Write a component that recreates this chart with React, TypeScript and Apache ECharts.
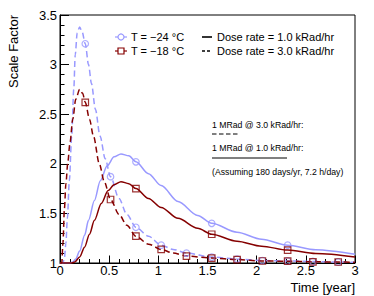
import React, { useEffect, useRef } from "react";
import * as echarts from "echarts";

// Curve samples (time in years, scale factor)
const tBlueDash = [0, 0.03, 0.045, 0.06, 0.075, 0.095, 0.119, 0.14, 0.155, 0.175, 0.2, 0.225, 0.257, 0.29, 0.32, 0.36, 0.407, 0.46, 0.514, 0.6, 0.68, 0.772, 0.9, 1.029, 1.15, 1.286, 1.543, 1.801, 2.058, 2.315, 2.572, 2.829, 3];
const vBlueDash = [1, 1, 1.05, 1.2, 1.45, 1.83, 2.28, 2.75, 3.1, 3.32, 3.38, 3.33, 3.21, 3.0, 2.81, 2.55, 2.28, 2.05, 1.87, 1.65, 1.49, 1.36, 1.27, 1.18, 1.137, 1.1, 1.06, 1.04, 1.025, 1.02, 1.015, 1.01, 1.008];

const tRedDash = [0, 0.018, 0.03, 0.045, 0.06, 0.08, 0.1, 0.13, 0.16, 0.2, 0.23, 0.257, 0.3, 0.34, 0.4, 0.45, 0.514, 0.6, 0.68, 0.772, 0.9, 1.029, 1.15, 1.286, 1.543, 1.801, 2.058, 2.315, 2.572, 2.829, 3];
const vRedDash = [1, 1, 1.2, 1.55, 1.8, 2.02, 2.2, 2.45, 2.65, 2.75, 2.71, 2.62, 2.45, 2.28, 2.0, 1.82, 1.64, 1.49, 1.38, 1.27, 1.19, 1.137, 1.1, 1.07, 1.05, 1.035, 1.02, 1.018, 1.012, 1.01, 1.008];

const tBlueSolid = [0, 0.1, 0.13, 0.16, 0.2, 0.25, 0.29, 0.35, 0.41, 0.48, 0.55, 0.62, 0.7, 0.772, 0.9, 1.029, 1.2, 1.4, 1.543, 1.8, 2.05, 2.315, 2.6, 3];
const vBlueSolid = [1, 1, 1.01, 1.04, 1.12, 1.28, 1.43, 1.63, 1.83, 1.98, 2.07, 2.1, 2.08, 2.02, 1.9, 1.78, 1.62, 1.48, 1.4, 1.31, 1.24, 1.18, 1.134, 1.088];

const tRedSolid = [0, 0.12, 0.15, 0.2, 0.25, 0.3, 0.35, 0.42, 0.49, 0.55, 0.62, 0.7, 0.772, 0.9, 1.029, 1.2, 1.4, 1.543, 1.8, 2.05, 2.315, 2.6, 3];
const vRedSolid = [1, 1, 1.01, 1.06, 1.16, 1.29, 1.43, 1.6, 1.73, 1.79, 1.82, 1.8, 1.75, 1.65, 1.56, 1.45, 1.35, 1.29, 1.22, 1.17, 1.13, 1.095, 1.06];

// Markers (every 1 MRad)
const tMarkDash = [0.257, 0.514, 0.772, 1.029, 1.286, 1.543, 1.801, 2.058, 2.315, 2.572, 2.829];
const vMarkBlueDash = [3.21, 1.87, 1.36, 1.18, 1.1, 1.06, 1.04, 1.025, 1.02, 1.015, 1.01];
const vMarkRedDash = [2.62, 1.64, 1.27, 1.137, 1.07, 1.05, 1.035, 1.02, 1.018, 1.012, 1.01];
const tMarkSolid = [0.772, 1.543, 2.315];
const vMarkBlueSolid = [2.02, 1.4, 1.18];
const vMarkRedSolid = [1.75, 1.29, 1.13];

const legendTemps = ["T = \u221224 \u00b0C", "T = \u221218 \u00b0C"];
const legendRates = ["Dose rate = 1.0 kRad/hr", "Dose rate = 3.0 kRad/hr"];
const noteTexts = ["1 MRad @ 3.0 kRad/hr:", "1 MRad @ 1.0 kRad/hr:", "(Assuming 180 days/yr, 7.2 h/day)"];

const BLUE = "#9999ff";
const RED = "#850000";
const FONT = "'Liberation Sans', Arial, Helvetica, sans-serif";

const zip = (t: number[], v: number[]) => t.map((x, i) => [x, v[i]]);

export default function App() {
  const ref = useRef<HTMLDivElement>(null);
  useEffect(() => {
    if (!ref.current) return;
    const chart = echarts.init(ref.current, null, { renderer: "svg" });
    const lineSeries = (data: number[][], color: string, dashed: boolean) => ({
      type: "line",
      data,
      smooth: 0.3,
      smoothMonotone: "x",
      showSymbol: false,
      symbol: "none",
      lineStyle: { color, width: 1.5, type: dashed ? [6, 3.5] : "solid" },
      z: 3,
    });
    const markSeries = (data: number[][], color: string, sym: string) => ({
      type: "scatter",
      data,
      symbol: sym,
      symbolSize: 6.5,
      itemStyle: { color: "transparent", borderColor: color, borderWidth: 1.2 },
      z: 5,
    });
    const legendX1 = 115;
    const legendX2 = 202;
    const row1 = 37;
    const row2 = 51;
    const textStyle = (size: number) => ({ fill: "#000", fontFamily: FONT, fontSize: size });
    chart.setOption({
      animation: false,
      backgroundColor: "#fff",
      grid: { left: 60, right: 19, top: 15, bottom: 33, show: true, borderColor: "#000", borderWidth: 1, backgroundColor: "transparent" },
      xAxis: {
        type: "value",
        min: 0,
        max: 3,
        interval: 0.5,
        axisLine: { show: true, lineStyle: { color: "#000", width: 1 } },
        axisTick: { show: true, inside: true, length: 7.5, lineStyle: { color: "#000" } },
        minorTick: { show: true, splitNumber: 5, length: 4, lineStyle: { color: "#000" } },
        splitLine: { show: false },
        axisLabel: { color: "#000", fontSize: 13, fontFamily: FONT, margin: 1, formatter: (v: number) => String(v) },
      },
      yAxis: {
        type: "value",
        min: 1,
        max: 3.5,
        interval: 0.5,
        axisLine: { show: true, lineStyle: { color: "#000", width: 1 } },
        axisTick: { show: true, inside: true, length: 9, lineStyle: { color: "#000" } },
        minorTick: { show: true, splitNumber: 5, length: 4.5, lineStyle: { color: "#000" } },
        splitLine: { show: false },
        axisLabel: { color: "#000", fontSize: 13, fontFamily: FONT, margin: 3, formatter: (v: number) => String(v) },
      },
      series: [
        lineSeries(zip(tBlueSolid, vBlueSolid), BLUE, false),
        lineSeries(zip(tBlueDash, vBlueDash), BLUE, true),
        lineSeries(zip(tRedSolid, vRedSolid), RED, false),
        lineSeries(zip(tRedDash, vRedDash), RED, true),
        markSeries(zip(tMarkDash, vMarkBlueDash), BLUE, "circle"),
        markSeries(zip(tMarkSolid, vMarkBlueSolid), BLUE, "circle"),
        markSeries(zip(tMarkDash, vMarkRedDash), RED, "rect"),
        markSeries(zip(tMarkSolid, vMarkRedSolid), RED, "rect"),
      ],
      graphic: [
        { type: "text", x: 13, y: 15, rotation: Math.PI / 2, style: { ...textStyle(13), text: "Scale Factor", align: "right", verticalAlign: "middle" } },
        { type: "text", x: 355, y: 287, style: { ...textStyle(13), text: "Time [year]", align: "right", verticalAlign: "middle" } },
        // Legend column 1
        { type: "line", shape: { x1: legendX1, y1: row1, x2: legendX1 + 12, y2: row1 }, style: { stroke: BLUE, lineWidth: 1.2 } },
        { type: "circle", shape: { cx: legendX1 + 6, cy: row1, r: 3 }, style: { fill: "#fff", stroke: BLUE, lineWidth: 1.2 } },
        { type: "text", x: legendX1 + 16, y: row1, style: { ...textStyle(11), text: legendTemps[0], verticalAlign: "middle" } },
        { type: "line", shape: { x1: legendX1, y1: row2, x2: legendX1 + 12, y2: row2 }, style: { stroke: RED, lineWidth: 1.2 } },
        { type: "rect", shape: { x: legendX1 + 3, y: row2 - 3, width: 6, height: 6 }, style: { fill: "#fff", stroke: RED, lineWidth: 1.2 } },
        { type: "text", x: legendX1 + 16, y: row2, style: { ...textStyle(11), text: legendTemps[1], verticalAlign: "middle" } },
        // Legend column 2
        { type: "line", shape: { x1: legendX2, y1: row1, x2: legendX2 + 10, y2: row1 }, style: { stroke: "#000", lineWidth: 1.6 } },
        { type: "text", x: legendX2 + 15, y: row1, style: { ...textStyle(11), text: legendRates[0], verticalAlign: "middle" } },
        { type: "line", shape: { x1: legendX2, y1: row2, x2: legendX2 + 10, y2: row2 }, style: { stroke: "#000", lineWidth: 1.6, lineDash: [3, 2] } },
        { type: "text", x: legendX2 + 15, y: row2, style: { ...textStyle(11), text: legendRates[1], verticalAlign: "middle" } },
        // Annotation
        { type: "text", x: 212, y: 125, style: { ...textStyle(8.7), text: noteTexts[0], verticalAlign: "middle" } },
        { type: "line", shape: { x1: 212, y1: 134, x2: 237.5, y2: 134 }, style: { stroke: "#000", lineWidth: 1, lineDash: [4.5, 2.5] } },
        { type: "text", x: 212, y: 148, style: { ...textStyle(8.7), text: noteTexts[1], verticalAlign: "middle" } },
        { type: "line", shape: { x1: 212, y1: 158, x2: 287, y2: 158 }, style: { stroke: "#000", lineWidth: 1 } },
        { type: "text", x: 212, y: 171.5, style: { ...textStyle(8.7), text: noteTexts[2], verticalAlign: "middle" } },
      ],
    });
    return () => chart.dispose();
  }, []);
  return <div ref={ref} style={{ position: "fixed", left: 0, top: 0, width: 374, height: 296, background: "#fff" }} />;
}
